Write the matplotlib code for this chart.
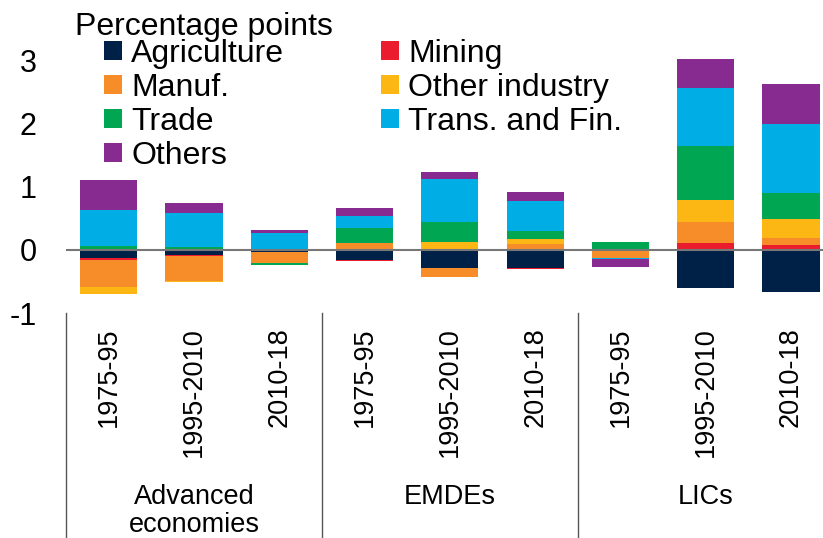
import matplotlib
matplotlib.use("Agg")
import matplotlib.pyplot as plt
import numpy as np
from matplotlib.lines import Line2D

plt.rcParams['font.family'] = ['Liberation Sans', 'DejaVu Sans']

periods = ["1975-95", "1995-2010", "2010-18"] * 3
groups = ["Advanced\neconomies", "EMDEs", "LICs"]

sectors = ["Agriculture", "Mining", "Manuf.", "Other industry", "Trade", "Trans. and Fin.", "Others"]
agriculture = [-0.12, -0.085, -0.03, -0.16, -0.285, -0.29, 0.0, -0.60, -0.665]
mining = [-0.04, -0.015, 0.0, -0.02, -0.005, -0.015, 0.0, 0.105, 0.08]
manuf = [-0.43, -0.39, -0.18, 0.105, -0.14, 0.09, -0.12, 0.345, 0.105]
other_industry = [-0.10, -0.02, 0.0, 0.0, 0.13, 0.085, 0.0, 0.34, 0.305]
trade = [0.06, 0.05, -0.03, 0.245, 0.31, 0.12, 0.13, 0.85, 0.415]
trans_fin = [0.58, 0.54, 0.275, 0.195, 0.68, 0.485, -0.025, 0.92, 1.095]
others = [0.46, 0.16, 0.035, 0.125, 0.12, 0.14, -0.12, 0.47, 0.62]

series = [agriculture, mining, manuf, other_industry, trade, trans_fin, others]
colors = ["#002147", "#EB1C2D", "#F78D28", "#FDB714", "#00A651", "#00ADE4", "#872B90"]

fig = plt.figure(figsize=(8.23, 5.38), dpi=100)
ax = fig.add_axes([66/823, 0.418, 1 - 66/823, 0.540])

x = np.arange(len(periods))
pos_base = np.zeros(len(x))
neg_base = np.zeros(len(x))
handles = {}
for name, vals, c in zip(sectors, series, colors):
    v = np.array(vals, dtype=float)
    bottoms = np.where(v >= 0, pos_base, neg_base)
    b = ax.bar(x, v, width=0.67, bottom=bottoms, color=c, linewidth=0, label=name)
    handles[name] = b
    pos_base += np.where(v >= 0, v, 0)
    neg_base += np.where(v < 0, v, 0)

ax.axhline(0, color="#777777", linewidth=1.5, zorder=5)

ax.set_xlim(-0.5, -0.5 + (823 - 66) / 85.3)
ax.set_ylim(-1, 3.6)
ax.set_yticks([-1, 0, 1, 2, 3])
ax.set_yticklabels(["-1", "0", "1", "2", "3"])
ax.set_xticks(x)
ax.set_xticklabels(periods, rotation=90, va="top", ha="center")
ax.tick_params(axis="x", length=0, pad=10, labelsize=19.5)
ax.tick_params(axis="y", length=0, pad=21, labelsize=22)
for s in ax.spines.values():
    s.set_visible(False)

# group separators and labels
for sep in [-0.5, 2.5, 5.5]:
    ax.add_line(Line2D([sep, sep], [-1, -4.6], color="#555555", linewidth=1.0,
                       clip_on=False, transform=ax.transData))
for i, g in enumerate(groups):
    ax.text(3 * i + 1, -3.7, g, ha="center", va="top", fontsize=19.5,
            linespacing=1.13, transform=ax.transData, clip_on=False)

fig.text(75/823, 1 - 27/538, "Percentage points", fontsize=23, va="center", ha="left")

order = ["Agriculture", "Manuf.", "Trade", "Others", "Mining", "Other industry", "Trans. and Fin."]
leg = ax.legend([handles[n] for n in order], order, ncol=2, frameon=False,
                loc="upper left", bbox_to_anchor=(104/823, 1 - 39/538),
                bbox_transform=fig.transFigure, fontsize=23,
                handlelength=0.55, handleheight=0.55, handletextpad=0.3,
                labelspacing=0.12, columnspacing=3.03, borderpad=0, borderaxespad=0)

fig.savefig("out.png", dpi=100)
